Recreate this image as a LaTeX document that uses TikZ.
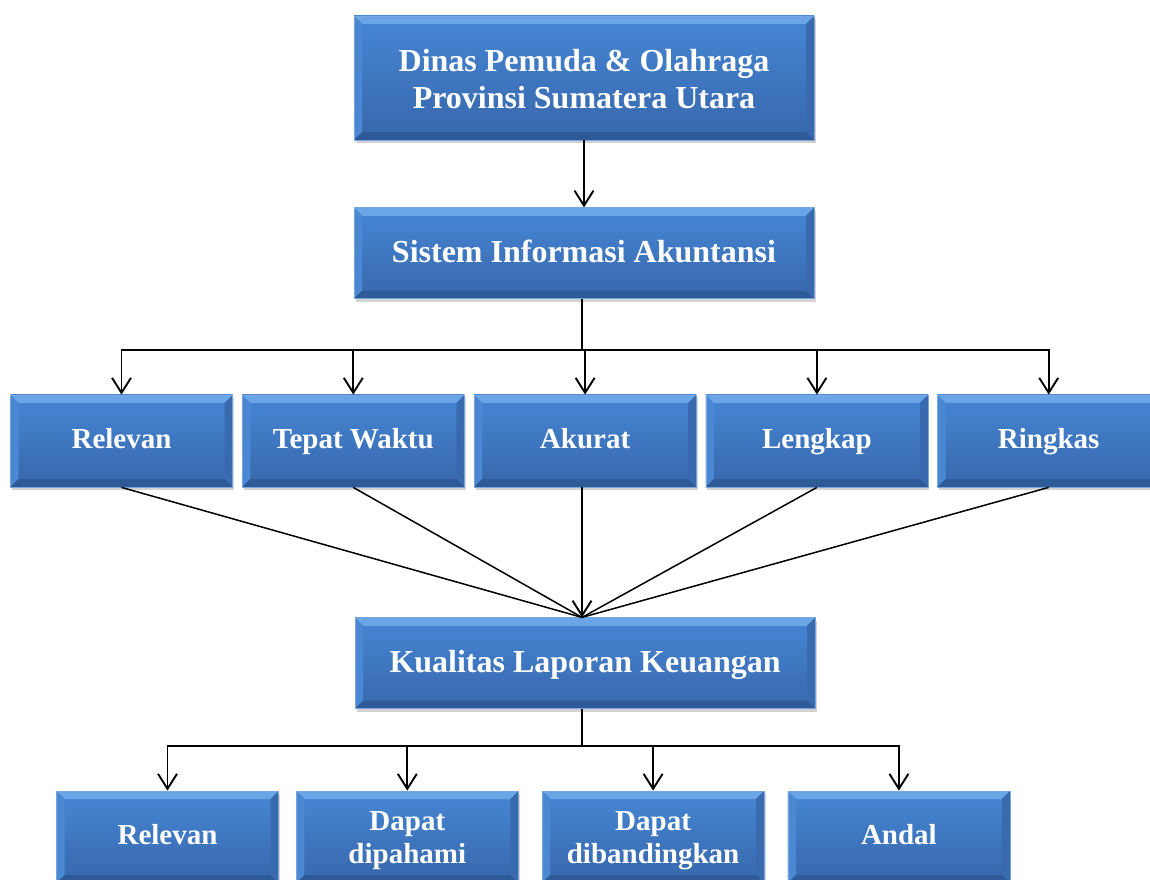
\documentclass[tikz,border=0pt]{standalone}
\usepackage{fontspec}
\setmainfont{Liberation Serif}
\usepackage{tikz}
\usetikzlibrary{arrows.meta,positioning,shadows}
\definecolor{boxTop}{HTML}{4686D5}
\definecolor{boxBottom}{HTML}{3767AB}
\definecolor{bevelLight}{HTML}{6AA5E8}
\definecolor{bevelSide}{HTML}{4A88D3}
\definecolor{bevelRight}{HTML}{3A6AAE}
\definecolor{bevelDark}{HTML}{2E5A97}
\definecolor{boxEdge}{HTML}{79A6DC}

\newcommand{\boxstrut}{\rule[-0.25em]{0pt}{1.05em}}
\newcommand{\firstline}[1]{\rule{0pt}{#1}}

\tikzset{
  bevel/.style={path picture={
    \fill[bevelLight] (path picture bounding box.north west) -- (path picture bounding box.north east)
      -- ([shift={(-8pt,-8pt)}]path picture bounding box.north east) -- ([shift={(8pt,-8pt)}]path picture bounding box.north west) -- cycle;
    \fill[bevelSide] (path picture bounding box.north west) -- ([shift={(8pt,-8pt)}]path picture bounding box.north west)
      -- ([shift={(8pt,8pt)}]path picture bounding box.south west) -- (path picture bounding box.south west) -- cycle;
    \fill[bevelRight] (path picture bounding box.north east) -- ([shift={(-8pt,-8pt)}]path picture bounding box.north east)
      -- ([shift={(-8pt,8pt)}]path picture bounding box.south east) -- (path picture bounding box.south east) -- cycle;
    \fill[bevelDark] (path picture bounding box.south west) -- (path picture bounding box.south east)
      -- ([shift={(-8pt,8pt)}]path picture bounding box.south east) -- ([shift={(8pt,8pt)}]path picture bounding box.south west) -- cycle;
  }}
}

\begin{document}
\begin{tikzpicture}[
    x=1pt,y=1pt,
    node distance=9pt,
    box/.style={rectangle,top color=boxTop,bottom color=boxBottom,draw=boxEdge,line width=0.8pt,
      bevel,drop shadow={shadow xshift=1.5pt,shadow yshift=-3pt,opacity=0.35},
      text=white,font=\bfseries\fontsize{29}{33}\selectfont,align=center,
      execute at begin node=\boxstrut,execute at end node=\boxstrut,
      minimum width=222pt,minimum height=92pt,inner sep=0pt},
    bigbox/.style={box,minimum width=460pt,font=\bfseries\fontsize{32}{37}\selectfont},
    conn/.style={line width=1.9pt,black},
    arr/.style={conn,-{Straight Barb[length=15pt,width=19pt]}}
  ]
    \useasboundingbox (0,0) rectangle (1150,879);
    \clip (0,0) rectangle (1150,879);

    \node[bigbox,minimum height=124pt] (dinas) at (584,801) {\firstline{0.98em}Dinas Pemuda \& Olahraga\\Provinsi Sumatera Utara};
    \node[bigbox,minimum height=91pt,below=67pt of dinas] (sistem) {Sistem Informasi Akuntansi};

    \node[box] (relevan) at (121.5,438) {Relevan};
    \node[box,right=of relevan] (tepat) {Tepat Waktu};
    \node[box,right=of tepat] (akurat) {Akurat};
    \node[box,right=of akurat] (lengkap) {Lengkap};
    \node[box,right=of lengkap] (ringkas) {Ringkas};

    \node[bigbox,minimum height=91pt,below=130pt of akurat] (kualitas) {Kualitas Laporan Keuangan};

    \node[box] (relevanB) at (167.5,42) {Relevan};
    \node[box,right=17pt of relevanB] (dipahami) {\firstline{0.92em}Dapat\\dipahami};
    \node[box,right=23pt of dipahami] (dibandingkan) {\firstline{0.92em}Dapat\\dibandingkan};
    \node[box,right=23pt of dibandingkan] (andal) {Andal};

    \coordinate (hubTop) at (582,529);
    \coordinate (hubBottom) at (582,133);

    \draw[arr] (dinas) -- (sistem);
    \foreach \n in {relevan,tepat,akurat,lengkap,ringkas}
      \draw[arr] (sistem.south -| hubTop) |- (hubTop -| \n.north) -- (\n.north);

    % lines into the quality box
    \foreach \n in {relevan,tepat,lengkap,ringkas}
      \draw[conn,line width=1.5pt] (\n.south) -- (kualitas.north -| hubTop);
    \draw[arr] (akurat.south -| hubTop) -- (kualitas.north -| hubTop);

    \foreach \n in {relevanB,dipahami,dibandingkan,andal}
      \draw[arr] (kualitas.south -| hubBottom) |- (hubBottom -| \n.north) -- (\n.north);
  \end{tikzpicture}
\end{document}
